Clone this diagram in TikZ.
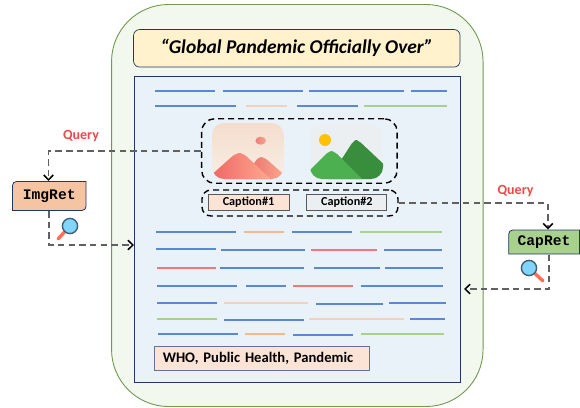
\documentclass[tikz,border=0pt]{standalone}
\usepackage{fontspec}
\setmainfont{Carlito}
\setmonofont{Liberation Mono}
\usetikzlibrary{arrows.meta}
\definecolor{navy}{HTML}{1F3864}
\definecolor{lblue}{HTML}{5B88D2}
\definecolor{lorange}{HTML}{F4B88F}
\definecolor{lpale}{HTML}{F6D0B8}
\definecolor{lred}{HTML}{F07878}
\definecolor{lgreen}{HTML}{A9D18E}
\definecolor{outerfill}{HTML}{F3F8EF}
\definecolor{outerline}{HTML}{6F9A50}
\definecolor{docfill}{HTML}{E9F1F9}
\definecolor{titlefill}{HTML}{FFF2CC}
\definecolor{keyfill}{HTML}{FBE3D6}
\definecolor{imgfill}{HTML}{F5C4A2}
\definecolor{capfill}{HTML}{A9D18E}
\definecolor{querycol}{HTML}{F04848}
\definecolor{lensfill}{HTML}{81D4FA}
\definecolor{lensring}{HTML}{3F5F78}
\definecolor{lenshandle}{HTML}{FF7055}
\tikzset{
  outerbox/.style={draw=outerline,fill=outerfill,line width=.9pt,rounded corners=57pt},
  docbox/.style={draw=navy,fill=docfill,line width=.9pt},
  titlebox/.style={draw=navy,fill=titlefill,line width=.7pt,rounded corners=6pt,font=\fontsize{19.5}{22}\selectfont\bfseries\itshape},
  keybox/.style={draw=navy!70,fill=keyfill,line width=.8pt,font=\fontsize{14.6}{17}\selectfont\bfseries,text=black},
  capbox/.style={draw=black!65,line width=.9pt,font=\fontsize{12.2}{14}\selectfont\bfseries},
  groupbox/.style={draw=black,line width=1.4pt,dash pattern=on 6pt off 4pt},
  conn/.style={draw=black!62,line width=1.3pt,dash pattern=on 6.5pt off 4.2pt,-{Straight Barb[length=5pt,width=9.5pt,line width=1.5pt,color=black]}},
  retlabel/.style={font=\ttfamily\bfseries\fontsize{14.6}{16}\selectfont,inner sep=0pt},
  querylabel/.style={text=querycol,font=\fontsize{14}{16}\selectfont\bfseries},
  textline/.style={line width=1.4pt},
  retbox/.style={draw=navy,line width=.8pt},
}
\newcommand{\lensicon}[4]{% lens x, lens y, handle x, handle y
  \draw[line width=3.4pt,line cap=round,color=lenshandle] (#1,#2) -- (#3,#4);
  \draw[fill=lensfill,draw=lensring,line width=1.4pt] (#1,#2) circle (7.6pt);
}
\begin{document}
\begin{tikzpicture}[x=1pt,y=-1pt]
\useasboundingbox (0,0) rectangle (580,407);
% containers
\node[outerbox,minimum width=371.5pt,minimum height=402pt,inner sep=0pt] (outer) at (297.3,205.5) {};
\node[docbox,minimum width=326pt,minimum height=305.5pt,inner sep=0pt] (doc) at (297.5,229.3) {};
\node[titlebox,minimum width=326.5pt,minimum height=37.5pt,inner sep=0pt] (title) at (296.8,48.3) {“Global Pandemic Officially Over”};
\node[keybox,text width=199pt,align=left,inner xsep=8pt,inner ysep=0pt,minimum height=24pt] (keys) at (262.3,358.5) {WHO, Public Health, Pandemic};
% text lines
\foreach \xa/\xb/\yy/\cc in {
  155/215/91/lblue,223/303/91/lblue,309/404/91/lblue,411/447/91/lblue,
  155/235.5/106/lblue,246/287/106/lpale,297/358/106/lblue,364/447/106/lgreen,
  156/236/232/lblue,244/284/232/lorange,292/352/232/lblue,360/442/232/lgreen,
  156/216/249/lblue,221/305/250/lblue,311/377/250/lred,384/442/250/lblue,
  157/216/268/lred,220/304/268/lblue,314/380/268/lblue,385/443/268/lblue,
  157/237/286/lblue,246/286/286/lblue,293/353/286/lred,361/443/286/lblue,
  157/217/303/lblue,224/308/303/lpale,316/383/304/lblue,389/446/303/lblue,
  157/217/319/lgreen,224/304/320/lblue,309/404/319/lpale,410/445/319/lblue,
  158/238/334/lblue,245/285/334/lorange,293/353/335/lblue,361/444/334/lgreen}
  {\draw[textline,color=\cc] (\xa,\yy) -- (\xb,\yy);}
% image 1
\definecolor{peachtop}{HTML}{F5DDCD}
\definecolor{peachbot}{HTML}{F7EEE6}
\definecolor{redL}{HTML}{EE6464}
\definecolor{redR}{HTML}{FFAE90}
\definecolor{redB}{HTML}{E66A6A}
\definecolor{sunA}{HTML}{EE7E78}
\definecolor{sunB}{HTML}{F5A595}
\begin{scope}
  \clip[rounded corners=12pt] (212,123) rectangle (283.7,179);
  \shade[top color=peachtop,bottom color=peachbot] (212,123) rectangle (283.7,179);
  \shade[left color=sunA,right color=sunB] (260.7,140.7) ellipse (5.3pt and 4pt);
  \shade[left color=redB,right color=redR,rounded corners=4pt]
     (243,182) -- (258,157) -- (264,157) -- (288,178) -- (276,182) -- cycle;
  \shade[left color=redL,right color=redR,rounded corners=5pt]
     (208,178) -- (236,153) -- (243,153) -- (275,183) -- (215,183) -- cycle;
\end{scope}
% image 2
\definecolor{mdark}{HTML}{388E3C}
\definecolor{mlight}{HTML}{4CAF50}
\definecolor{greybg}{HTML}{ECEFF1}
\definecolor{sunY}{HTML}{FFC107}
\begin{scope}
  \clip[rounded corners=12pt] (310,125) rectangle (383,179);
  \fill[greybg] (310,125) rectangle (383,179);
  \fill[sunY] (325,140) circle (6pt);
  \fill[mdark,rounded corners=4pt] (325,185) -- (354,140) -- (358,140) -- (392,172) -- (385,185) -- cycle;
  \fill[mlight,rounded corners=4pt] (303,177) -- (329,151) -- (334,151) -- (366,183) -- (310,183) -- cycle;
\end{scope}
% captions
\node[capbox,fill=keyfill,minimum width=81pt,minimum height=16pt,inner sep=0pt] (cap1) at (248.5,202) {Caption\#1};
\node[capbox,fill=greybg,minimum width=80pt,minimum height=16pt,inner sep=0pt] (cap2) at (346.8,202) {Caption\#2};
% dashed groups
\node[groupbox,rounded corners=13pt,minimum width=195.5pt,minimum height=64.5pt,inner sep=0pt] (imggroup) at (299.4,151) {};
\node[groupbox,rounded corners=9pt,minimum width=196pt,minimum height=26pt,inner sep=0pt] (capgroup) at (300,203) {};
% retrievers
\draw[retbox,fill=imgfill] [rounded corners=4pt] (12.5,196) -- (12.5,181.5) [sharp corners] -- (86,181.5) [rounded corners=4pt] -- (86,210.5) [sharp corners] -- (12.5,210.5) -- cycle;
\node[retlabel] (imgret) at (49.25,196) {ImgRet};
\draw[retbox,fill=capfill] [rounded corners=4pt] (508.7,242) -- (508.7,230) [sharp corners] -- (579.5,230) -- (579.5,254) -- (508.7,254) -- cycle;
\node[retlabel] (capret) at (544,242) {CapRet};
\coordinate (imgtop) at (48.5,181);
\coordinate (imgbot) at (49,211);
\coordinate (imgin) at (134,245);
\coordinate (captop) at (548,229.5);
\coordinate (capbot) at (549,254.5);
\coordinate (capin) at (464,289);
\node[querylabel] (q1) at (81,136) {Query};
\node[querylabel] (q2) at (515.5,191) {Query};
% connectors
\draw[conn] (imggroup.west) -| (imgtop);
\draw[conn] (imgbot) |- (imgin);
\draw[conn] (capgroup.east) -| (captop);
\draw[conn] (capbot) |- (capin);
% magnifiers
\lensicon{70}{226}{58}{239}
\lensicon{529}{268}{543}{281}
\end{tikzpicture}
\end{document}
